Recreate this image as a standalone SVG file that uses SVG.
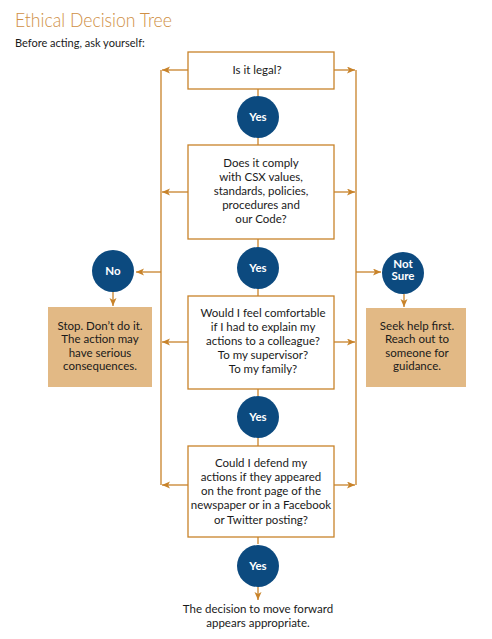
<svg xmlns="http://www.w3.org/2000/svg" width="492" height="639" viewBox="0 0 492 639">
<style>
.t{font-family:Lato,"Open Sans","Liberation Sans",sans-serif;fill:#1a1a1a}
.q{font-size:11.5px;text-anchor:middle}
.box{fill:#fff;stroke:#c8832a;stroke-width:1.3}
.tan{fill:#e2b985}
.c{fill:#0c4a7f}
.ct{font-family:Lato,"Open Sans","Liberation Sans",sans-serif;font-size:11.5px;font-weight:bold;fill:#fff;text-anchor:middle}
.ln{stroke:#c8832a;stroke-width:1.3;fill:none}
</style>
<defs>
<marker id="ah" markerUnits="userSpaceOnUse" markerWidth="9" markerHeight="8" refX="8" refY="3.5" orient="auto">
<path d="M0,0 L8,3.5 L0,7 L2,3.5 z" fill="#c8832a"/>
</marker>
</defs>
<rect width="492" height="639" fill="#fff"/>
<g id="title">
<text x="15" y="27" font-family="Lato,'Open Sans','Liberation Sans',sans-serif" font-weight="300" font-size="19.5" fill="#cf8f45" textLength="157" lengthAdjust="spacingAndGlyphs">Ethical Decision Tree</text>
<text class="t" x="15" y="47" font-size="11">Before acting, ask yourself:</text>
</g>
<g id="connectors">
<path class="ln" d="M161,70 V485 M356,70 V485"/>
<path class="ln" d="M188,70 H162" marker-end="url(#ah)"/>
<path class="ln" d="M334,70 H355" marker-end="url(#ah)"/>
<path class="ln" d="M188,192 H162" marker-end="url(#ah)"/>
<path class="ln" d="M334,192 H355" marker-end="url(#ah)"/>
<path class="ln" d="M188,342 H162" marker-end="url(#ah)"/>
<path class="ln" d="M334,342 H355" marker-end="url(#ah)"/>
<path class="ln" d="M188,485 H162" marker-end="url(#ah)"/>
<path class="ln" d="M334,485 H355" marker-end="url(#ah)"/>
<path class="ln" d="M161,272 H136" marker-end="url(#ah)"/>
<path class="ln" d="M356,272 H381" marker-end="url(#ah)"/>
<path class="ln" d="M113,292 V306" marker-end="url(#ah)"/>
<path class="ln" d="M404,294 V307" marker-end="url(#ah)"/>
<path class="ln" d="M258,89 V96 M258,138 V145 M258,239 V247 M258,289 V296 M258,389 V396 M258,438 V446 M258,537 V544"/>
<path class="ln" d="M258,587 V600" marker-end="url(#ah)"/>
</g>
<g id="q1">
<rect class="box" x="188" y="52" width="146" height="37"/>
<text class="t q" x="257" y="74">Is it legal?</text>
</g>
<g id="yes1"><circle class="c" cx="258" cy="117" r="21"/><text class="ct" x="258" y="121">Yes</text></g>
<g id="q2">
<rect class="box" x="188" y="145" width="146" height="94"/>
<text class="t q" x="261" y="167">Does it comply</text>
<text class="t q" x="261" y="181">with CSX values,</text>
<text class="t q" x="261" y="195">standards, policies,</text>
<text class="t q" x="261" y="209">procedures and</text>
<text class="t q" x="261" y="223">our Code?</text>
</g>
<g id="yes2"><circle class="c" cx="258" cy="268" r="21"/><text class="ct" x="258" y="272">Yes</text></g>
<g id="no"><circle class="c" cx="113" cy="271" r="21"/><text class="ct" x="113" y="275">No</text></g>
<g id="notsure"><circle class="c" cx="403" cy="273" r="21"/><text class="ct" x="403" y="268" font-size="10.5">Not</text><text class="ct" x="403" y="280" font-size="10">Sure</text></g>
<g id="stop">
<rect class="tan" x="48" y="307" width="104" height="80"/>
<text class="t q" x="100" y="330">Stop. Don’t do it.</text>
<text class="t q" x="100" y="343">The action may</text>
<text class="t q" x="100" y="357">have serious</text>
<text class="t q" x="100" y="370">consequences.</text>
</g>
<g id="seek">
<rect class="tan" x="366" y="308" width="100" height="79"/>
<text class="t q" x="417" y="330">Seek help first.</text>
<text class="t q" x="417" y="343">Reach out to</text>
<text class="t q" x="417" y="357">someone for</text>
<text class="t q" x="417" y="370">guidance.</text>
</g>
<g id="q3">
<rect class="box" x="188" y="296" width="146" height="93"/>
<text class="t q" x="263" y="317">Would I feel comfortable</text>
<text class="t q" x="263" y="331">if I had to explain my</text>
<text class="t q" x="263" y="345">actions to a colleague?</text>
<text class="t q" x="263" y="359">To my supervisor?</text>
<text class="t q" x="263" y="373">To my family?</text>
</g>
<g id="yes3"><circle class="c" cx="258" cy="417" r="21"/><text class="ct" x="258" y="421">Yes</text></g>
<g id="q4">
<rect class="box" x="188" y="446" width="146" height="91"/>
<text class="t q" x="261" y="467">Could I defend my</text>
<text class="t q" x="261" y="481">actions if they appeared</text>
<text class="t q" x="261" y="495">on the front page of the</text>
<text class="t q" x="261" y="509">newspaper or in a Facebook</text>
<text class="t q" x="261" y="524">or Twitter posting?</text>
</g>
<g id="yes4"><circle class="c" cx="258" cy="566" r="21"/><text class="ct" x="258" y="570">Yes</text></g>
<g id="result">
<text class="t q" x="258" y="613">The decision to move forward</text>
<text class="t q" x="258" y="627">appears appropriate.</text>
</g>
</svg>
